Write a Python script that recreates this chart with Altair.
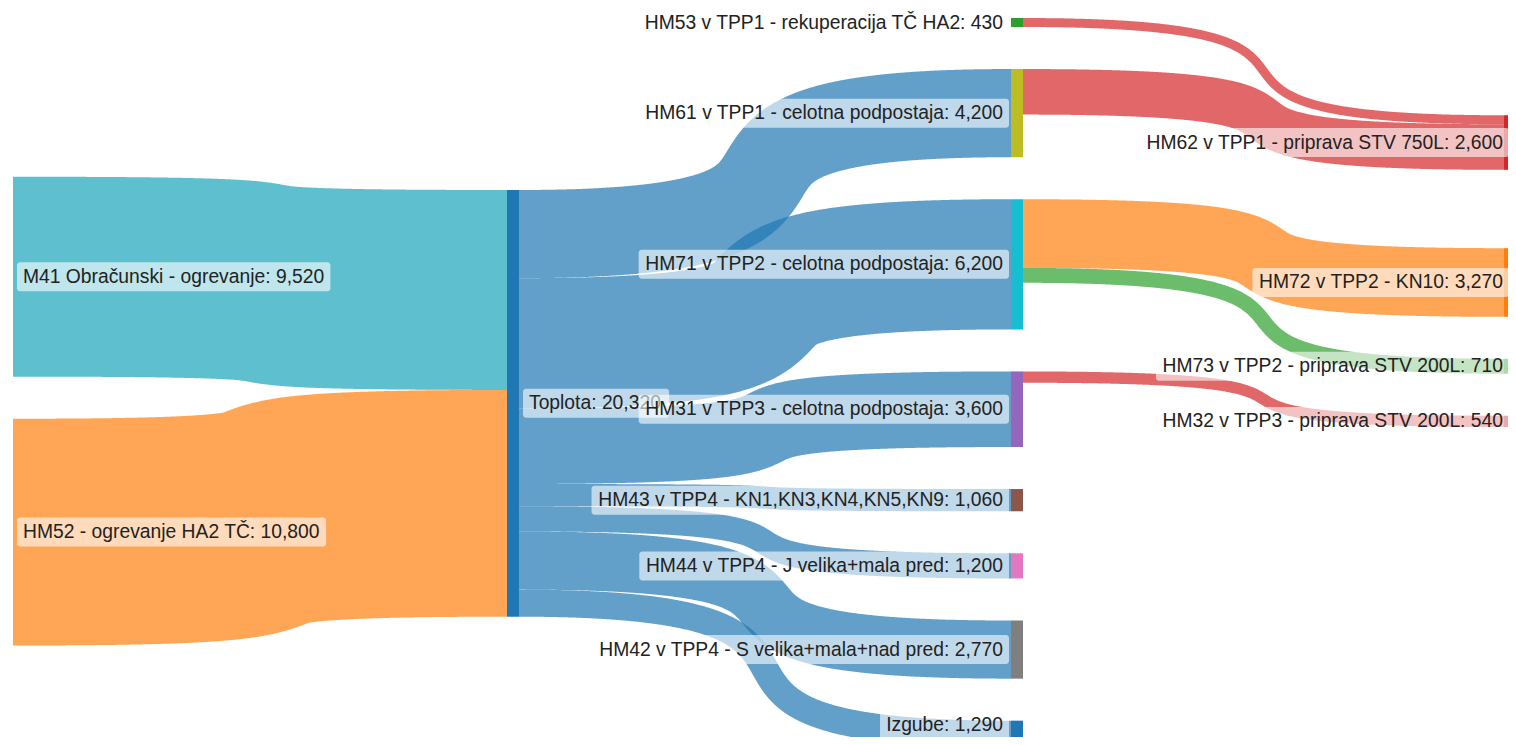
import numpy as np
import pandas as pd
import altair as alt

# ---------------- data ----------------
NODE_NAMES = [
    "M41 Obračunski - ogrevanje",
    "HM52 - ogrevanje HA2 TČ",
    "Toplota",
    "HM53 v TPP1 - rekuperacija TČ HA2",
    "HM61 v TPP1 - celotna podpostaja",
    "HM71 v TPP2 - celotna podpostaja",
    "HM31 v TPP3 - celotna podpostaja",
    "HM43 v TPP4 - KN1,KN3,KN4,KN5,KN9",
    "HM44 v TPP4 - J velika+mala pred",
    "HM42 v TPP4 - S velika+mala+nad pred",
    "Izgube",
    "HM62 v TPP1 - priprava STV 750L",
    "HM72 v TPP2 - KN10",
    "HM73 v TPP2 - priprava STV 200L",
    "HM32 v TPP3 - priprava STV 200L",
]
LINK_SOURCE = [0, 1, 2, 2, 2, 2, 2, 2, 2, 3, 4, 5, 5, 6]
LINK_TARGET = [2, 2, 4, 5, 6, 7, 8, 9, 10, 11, 11, 12, 13, 14]
LINK_VALUE = [9520, 10800, 4200, 6200, 3600, 1060, 1200, 2770, 1290, 430, 2170, 3270, 710, 540]

# ---------------- layout / style ----------------
NODE_COLUMN = [0, 0, 1, 2, 2, 2, 2, 2, 2, 2, 2, 3, 3, 3, 3]
NODE_COLOR = ["#1aa5ba", "#ff7f0e", "#1f77b4", "#2ca02c", "#bcbd22", "#17becf", "#9467bd",
              "#8c564b", "#e377c2", "#7f7f7f", "#1f77b4", "#d62728", "#ff7f0e", "#2ca02c", "#d62728"]
COLUMN_X = [13, 507, 1011, 1504]      # left edge of node columns (x scale units)
LABEL_GAP = [10, 10, 8, 1]
NODE_W = 12
PX = 0.021                            # pixels per unit of value
GAP = 2000                            # gap between nodes, value units
COLUMN_START = [7560, 8190, 0, 4630]
EXTRA_BEFORE = {12: 1730}
CURVE = 0.85
LINK_OPACITY = 0.7
FONT = "Liberation Sans"
FONT_SIZE = 19.3
W, H = 1500, 729
U_TOP = -10 / PX
U_BOT = U_TOP + H / PX

n = len(NODE_NAMES)
in_sum = np.zeros(n)
out_sum = np.zeros(n)
for s, t, v in zip(LINK_SOURCE, LINK_TARGET, LINK_VALUE):
    out_sum[s] += v
    in_sum[t] += v
node_val = np.maximum(in_sum, out_sum)

node_top = np.zeros(n)
for col in range(4):
    y = COLUMN_START[col]
    for i in range(n):
        if NODE_COLUMN[i] == col:
            y += EXTRA_BEFORE.get(i, 0)
            node_top[i] = y
            y += node_val[i] + GAP

links = list(range(len(LINK_VALUE)))
src_pos = {}
off = node_top.copy()
for li in sorted(links, key=lambda l: (LINK_SOURCE[l], LINK_TARGET[l])):
    src_pos[li] = off[LINK_SOURCE[li]]
    off[LINK_SOURCE[li]] += LINK_VALUE[li]
tgt_pos = {}
off = node_top.copy()
for li in sorted(links, key=lambda l: (LINK_TARGET[l], LINK_SOURCE[l])):
    tgt_pos[li] = off[LINK_TARGET[li]]
    off[LINK_TARGET[li]] += LINK_VALUE[li]


def band(x0, x1, y0, y1, w, c=CURVE, nt=900):
    """Outline of a thick (stroked) cubic link between two nodes, in pixel space."""
    t = np.linspace(0, 1, nt)
    L = x1 - x0
    b0 = (1 - t) ** 3
    b1 = 3 * (1 - t) ** 2 * t
    b2 = 3 * (1 - t) * t ** 2
    b3 = t ** 3
    xc = b0 * x0 + b1 * (x0 + c * L) + b2 * (x1 - c * L) + b3 * x1
    yc = (b0 + b1) * y0 + (b2 + b3) * y1
    h = w / 2
    xs = np.linspace(x0, x1, int(L) + 1)
    dx = xs[:, None] - xc[None, :]
    inside = np.abs(dx) <= h
    r = np.sqrt(np.clip(h * h - dx * dx, 0, None))
    top = np.where(inside, yc[None, :] - r, np.inf).min(axis=1)
    bot = np.where(inside, yc[None, :] + r, -np.inf).max(axis=1)
    return xs, top, bot


rows = []
for li in links:
    s, t, v = LINK_SOURCE[li], LINK_TARGET[li], LINK_VALUE[li]
    color = NODE_COLOR[t] if NODE_COLUMN[s] == 2 else NODE_COLOR[s]
    x0 = COLUMN_X[NODE_COLUMN[s]] + NODE_W
    x1 = COLUMN_X[NODE_COLUMN[t]]
    y0 = (src_pos[li] + v / 2) * PX
    y1 = (tgt_pos[li] + v / 2) * PX
    xs, top, bot = band(x0, x1, y0, y1, v * PX)
    for xx, a, b in zip(xs, top, bot):
        rows.append({"link": f"L{li:02d}", "x": round(float(xx), 2),
                     "y": round(float(a / PX), 2), "y2": round(float(b / PX), 2),
                     "color": color})
link_df = pd.DataFrame(rows)

node_rows = []
for i in range(n):
    col = NODE_COLUMN[i]
    node_rows.append({
        "x": COLUMN_X[col], "x2": COLUMN_X[col] + NODE_W,
        "y": node_top[i], "y2": node_top[i] + node_val[i],
        "color": NODE_COLOR[i], "op": LINK_OPACITY if col == 0 else 1.0,
    })
node_df = pd.DataFrame(node_rows)

ARIAL = {' ': 278, '-': 333, ':': 278, ',': 278, '+': 584, '.': 278,
         'A': 667, 'B': 667, 'C': 722, 'D': 722, 'E': 667, 'F': 611, 'G': 778, 'H': 722, 'I': 278,
         'J': 500, 'K': 667, 'L': 556, 'M': 833, 'N': 722, 'O': 778, 'P': 667, 'Q': 778, 'R': 722,
         'S': 667, 'T': 611, 'U': 722, 'V': 667, 'W': 944, 'X': 667, 'Y': 667, 'Z': 611, 'Č': 722,
         'a': 556, 'b': 556, 'c': 500, 'd': 556, 'e': 556, 'f': 278, 'g': 556, 'h': 556, 'i': 222,
         'j': 222, 'k': 500, 'l': 222, 'm': 833, 'n': 556, 'o': 556, 'p': 556, 'q': 556, 'r': 333,
         's': 500, 't': 278, 'u': 556, 'v': 500, 'w': 722, 'x': 500, 'y': 500, 'z': 500, 'č': 500}


def text_w(s):
    return sum(556 if ch.isdigit() else ARIAL.get(ch, 556) for ch in s) / 1000 * FONT_SIZE


BOX_HALF = 14.5 / PX
CY_MAX = U_BOT - 12 / PX          # keep every label fully inside the view
lab_left, lab_right = [], []
for i in range(n):
    col = NODE_COLUMN[i]
    label = f"{NODE_NAMES[i]}: {int(node_val[i]):,}"
    tw = text_w(label)
    cy = min(node_top[i] + node_val[i] / 2, CY_MAX)
    if col <= 1:
        tx = COLUMN_X[col] + (0 if col == 0 else NODE_W) + LABEL_GAP[col]
        lab_left.append({"label": label, "tx": tx, "cy": cy, "bx": tx - 6, "bx2": tx + tw + 6,
                         "by": cy - BOX_HALF, "by2": cy + BOX_HALF})
    else:
        tx = COLUMN_X[col] - LABEL_GAP[col]
        lab_right.append({"label": label, "tx": tx, "cy": cy, "bx": tx - tw - 6, "bx2": tx + 6,
                          "by": cy - BOX_HALF, "by2": cy + BOX_HALF})
left_df = pd.DataFrame(lab_left)
right_df = pd.DataFrame(lab_right)

xs_ = alt.Scale(domain=[8, 8 + W], nice=False, zero=False)
ys_ = alt.Scale(domain=[U_TOP, U_BOT], reverse=True, nice=False, zero=False)

link_layer = alt.Chart(link_df).mark_area(opacity=LINK_OPACITY, clip=True).encode(
    x=alt.X("x:Q", scale=xs_, axis=None),
    y=alt.Y("y:Q", scale=ys_, axis=None, stack=None),
    y2="y2:Q",
    color=alt.Color("color:N", scale=None),
    detail="link:N",
)

node_layer = alt.Chart(node_df).mark_rect(clip=True).encode(
    x=alt.X("x:Q", scale=xs_, axis=None), x2="x2:Q",
    y=alt.Y("y:Q", scale=ys_, axis=None), y2="y2:Q",
    color=alt.Color("color:N", scale=None),
    opacity=alt.Opacity("op:Q", scale=None),
)


def label_layers(df, align):
    box = alt.Chart(df).mark_rect(color="white", opacity=0.6, cornerRadius=3, clip=True).encode(
        x=alt.X("bx:Q", scale=xs_, axis=None), x2="bx2:Q",
        y=alt.Y("by:Q", scale=ys_, axis=None), y2="by2:Q",
    )
    txt = alt.Chart(df).mark_text(align=align, baseline="middle", font=FONT,
                                  fontSize=FONT_SIZE, color="#222222", clip=True).encode(
        x=alt.X("tx:Q", scale=xs_, axis=None),
        y=alt.Y("cy:Q", scale=ys_, axis=None),
        text="label:N",
    )
    return [box, txt]


chart = alt.layer(
    link_layer, node_layer, *label_layers(left_df, "left"), *label_layers(right_df, "right")
).properties(
    width=W, height=H, padding=0,
    autosize=alt.AutoSizeParams(type="none"),
    background="white",
).configure_view(strokeWidth=0)

chart.save("out.html", embed_options={"renderer": "svg", "actions": False})
